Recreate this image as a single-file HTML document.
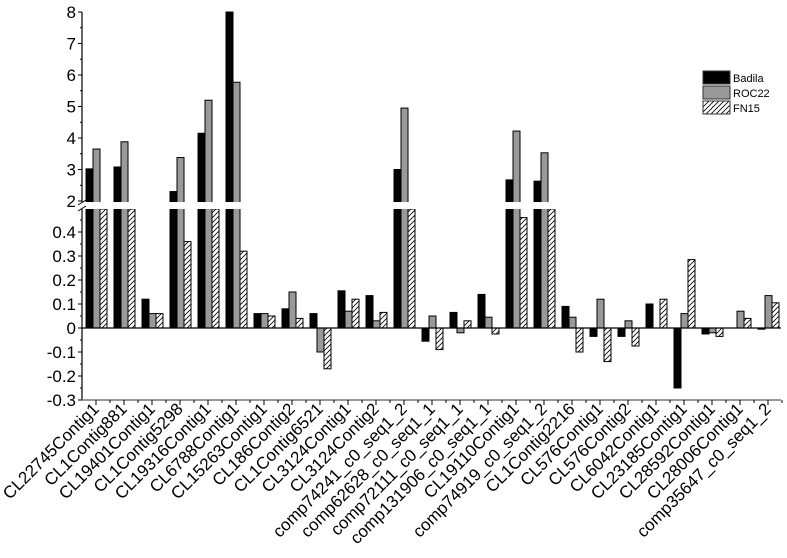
<!DOCTYPE html>
<html><head><meta charset="utf-8">
<style>html,body{margin:0;padding:0;background:#fff;}svg{display:block;font-family:"Liberation Sans",Arial,sans-serif;}</style>
</head><body>
<svg id="c" width="787" height="558" xmlns="http://www.w3.org/2000/svg">
<defs>
<pattern id="h" patternUnits="userSpaceOnUse" width="5" height="5">
<rect width="5" height="5" fill="#fff"/>
<path d="M-1,1 l2,-2 M0,5 l5,-5 M4,6 l2,-2" stroke="#000" stroke-width="0.8"/>
</pattern>
</defs>
</svg>
<script>
const s=document.getElementById('c');const NS='http://www.w3.org/2000/svg';
function el(t,a,txt){const e=document.createElementNS(NS,t);for(const k in a)e.setAttribute(k,a[k]);if(txt!==undefined)e.textContent=txt;s.appendChild(e);return e;}
const names=["CL22745Contig1","CL1Contig881","CL19401Contig1","CL1Contig5298","CL19316Contig1","CL6788Contig1","CL15263Contig1","CL186Contig2","CL1Contig6521","CL3124Contig1","CL3124Contig2","comp74241_c0_seq1_2","comp62628_c0_seq1_1","comp72111_c0_seq1_1","comp131906_c0_seq1_1","CL19110Contig1","comp74919_c0_seq1_2","CL1Contig2216","CL576Contig1","CL576Contig2","CL6042Contig1","CL23185Contig1","CL28592Contig1","CL28006Contig1","comp35647_c0_seq1_2"];
const F=0.49;
const d=[[3.02,3.65,F],[3.08,3.88,F],[.12,.06,.06],[2.3,3.38,.36],[4.15,5.2,F],[8,5.77,.32],[.06,.06,.05],[.08,.15,.04],[.06,-.1,-.17],[.155,.07,.12],[.135,.03,.065],[3.0,4.95,F],[-.055,.05,-.09],[.065,-.02,.03],[.14,.045,-.025],[2.67,4.22,.46],[2.63,3.53,F],[.09,.045,-.1],[-.035,.12,-.14],[-.035,.03,-.075],[.1,0,.12],[-.25,.06,.285],[-.025,-.02,-.035],[0,.07,.04],[-.005,.135,.105]];
const Y0=328;
function yv(v){if(v>=2)return 201-(v-2)*31.5;if(v>0.48)return 209;return Y0-v*240;}
const fills=['#000','#999','url(#h)'];
d.forEach((g,i)=>{const x0=86+28*i;g.forEach((v,j)=>{if(v===0)return;let y=yv(v);let top=Math.min(y,Y0),h=Math.abs(Y0-y);el('rect',{x:x0+j*7,y:top,width:7,height:h,fill:fills[j],stroke:'#000','stroke-width':1});});});
el('rect',{x:83,y:202,width:700,height:7,fill:'#fff'});
el('line',{x1:82,y1:12,x2:82,y2:202,stroke:'#000','stroke-width':1.2});
el('line',{x1:82,y1:209,x2:82,y2:400,stroke:'#000','stroke-width':1.2});
el('line',{x1:78,y1:205,x2:86,y2:200,stroke:'#000'});
el('line',{x1:78,y1:211,x2:86,y2:206,stroke:'#000'});
el('line',{x1:82,y1:Y0,x2:781,y2:Y0,stroke:'#000','stroke-width':1.2});
el('line',{x1:82,y1:400,x2:781,y2:400,stroke:'#777','stroke-width':1.5});
for(let v=2;v<=8;v++){const y=201-(v-2)*31.5;el('line',{x1:78,y1:y,x2:82,y2:y,stroke:'#000'});el('text',{x:76,y:y+6,'text-anchor':'end','font-size':17},v);if(v<8){el('line',{x1:80,y1:y-15.75,x2:82,y2:y-15.75,stroke:'#000'});}}
for(let k=-3;k<=4;k++){const y=Y0-k*24;el('line',{x1:78,y1:y,x2:82,y2:y,stroke:'#000'});el('text',{x:76,y:y+6,'text-anchor':'end','font-size':17},k==0?'0':(k/10).toFixed(1));el('line',{x1:80,y1:y-12,x2:82,y2:y-12,stroke:'#000'});}
names.forEach((n,i)=>{const cx=96+28*i;el('line',{x1:cx,y1:400,x2:cx,y2:405,stroke:'#000'});el('line',{x1:cx+14,y1:400,x2:cx+14,y2:403,stroke:'#000'});
el('text',{x:cx+4,y:410,'text-anchor':'end','font-size':17,transform:`rotate(-45 ${cx+4} 410)`},n);});
[['#000','Badila'],['#999','ROC22'],['url(#h)','FN15']].forEach((l,i)=>{const y=71+i*15;el('rect',{x:703,y:y,width:27,height:13,fill:l[0],stroke:'#333','stroke-width':1});el('text',{x:733,y:y+11,'font-size':11},l[1]);});
</script>
</body></html>
